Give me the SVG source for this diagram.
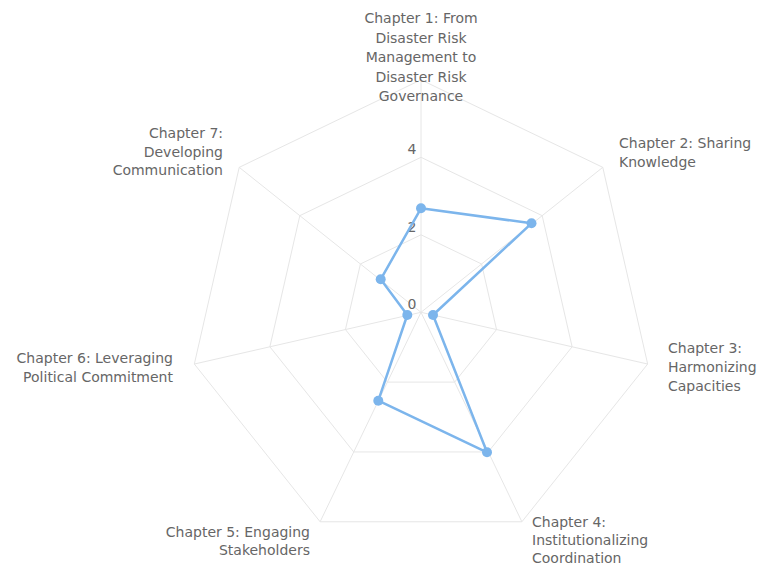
<svg xmlns="http://www.w3.org/2000/svg" width="765" height="567" viewBox="0 0 765 567">
<style>
  .grid { fill: none; stroke: #e6e6e6; stroke-width: 1; }
  .lbl { font-family: "DejaVu Sans", "Liberation Sans", sans-serif; font-size: 14px; fill: #666666; }
  .series { fill: none; stroke: #7cb5ec; stroke-width: 2.5; stroke-linejoin: round; }
  .pt { fill: #7cb5ec; }
</style>
<rect width="765" height="567" fill="#ffffff"/>
<g id="grid">
  <polygon class="grid" points="421,79.8 602.78,167.34 647.67,364.04 521.88,521.78 320.12,521.78 194.33,364.04 239.22,167.34"/>
  <polygon class="grid" points="421,157.3 542.18,215.66 572.11,346.79 488.25,451.95 353.75,451.95 269.89,346.79 299.82,215.66"/>
  <polygon class="grid" points="421,234.8 481.59,263.98 496.56,329.55 454.63,382.12 387.37,382.12 345.44,329.55 360.41,263.98"/>
  <path class="grid" d="M421,312.3L421,79.8M421,312.3L602.78,167.34M421,312.3L647.67,364.04M421,312.3L521.88,521.78M421,312.3L320.12,521.78M421,312.3L194.33,364.04M421,312.3L239.22,167.34"/>
</g>
<g id="y-axis-labels" class="lbl" text-anchor="end">
  <text x="416.5" y="309">0</text>
  <text x="416.5" y="232">2</text>
  <text x="416.5" y="154">4</text>
</g>
<g id="connectors">
  <polygon class="series" points="421,208.3 531.5,223.3 433,315 487,452.3 378.3,400.7 407.3,315 380.7,279.3"/>
</g>
<g id="points">
  <circle class="pt" cx="421" cy="208.3" r="5"/>
  <circle class="pt" cx="531.5" cy="223.3" r="5"/>
  <circle class="pt" cx="433" cy="315" r="5"/>
  <circle class="pt" cx="487" cy="452.3" r="5"/>
  <circle class="pt" cx="378.3" cy="400.7" r="5"/>
  <circle class="pt" cx="407.3" cy="315" r="5"/>
  <circle class="pt" cx="380.7" cy="279.3" r="5"/>
</g>
<g id="chapter1" class="lbl" text-anchor="middle">
  <text x="421" y="23">Chapter 1: From</text>
  <text x="421" y="42.5">Disaster Risk</text>
  <text x="421" y="62">Management to</text>
  <text x="421" y="81.5">Disaster Risk</text>
  <text x="421" y="101">Governance</text>
</g>
<g id="chapter2" class="lbl" text-anchor="start">
  <text x="619" y="148">Chapter 2: Sharing</text>
  <text x="619" y="167">Knowledge</text>
</g>
<g id="chapter3" class="lbl" text-anchor="start">
  <text x="668" y="353">Chapter 3:</text>
  <text x="668" y="372">Harmonizing</text>
  <text x="668" y="391">Capacities</text>
</g>
<g id="chapter4" class="lbl" text-anchor="start">
  <text x="532" y="527">Chapter 4:</text>
  <text x="532" y="545">Institutionalizing</text>
  <text x="532" y="563">Coordination</text>
</g>
<g id="chapter5" class="lbl" text-anchor="end">
  <text x="310" y="537">Chapter 5: Engaging</text>
  <text x="310" y="555">Stakeholders</text>
</g>
<g id="chapter6" class="lbl" text-anchor="end">
  <text x="173" y="363">Chapter 6: Leveraging</text>
  <text x="173" y="382">Political Commitment</text>
</g>
<g id="chapter7" class="lbl" text-anchor="end">
  <text x="223" y="138">Chapter 7:</text>
  <text x="223" y="157">Developing</text>
  <text x="223" y="175">Communication</text>
</g>
</svg>
